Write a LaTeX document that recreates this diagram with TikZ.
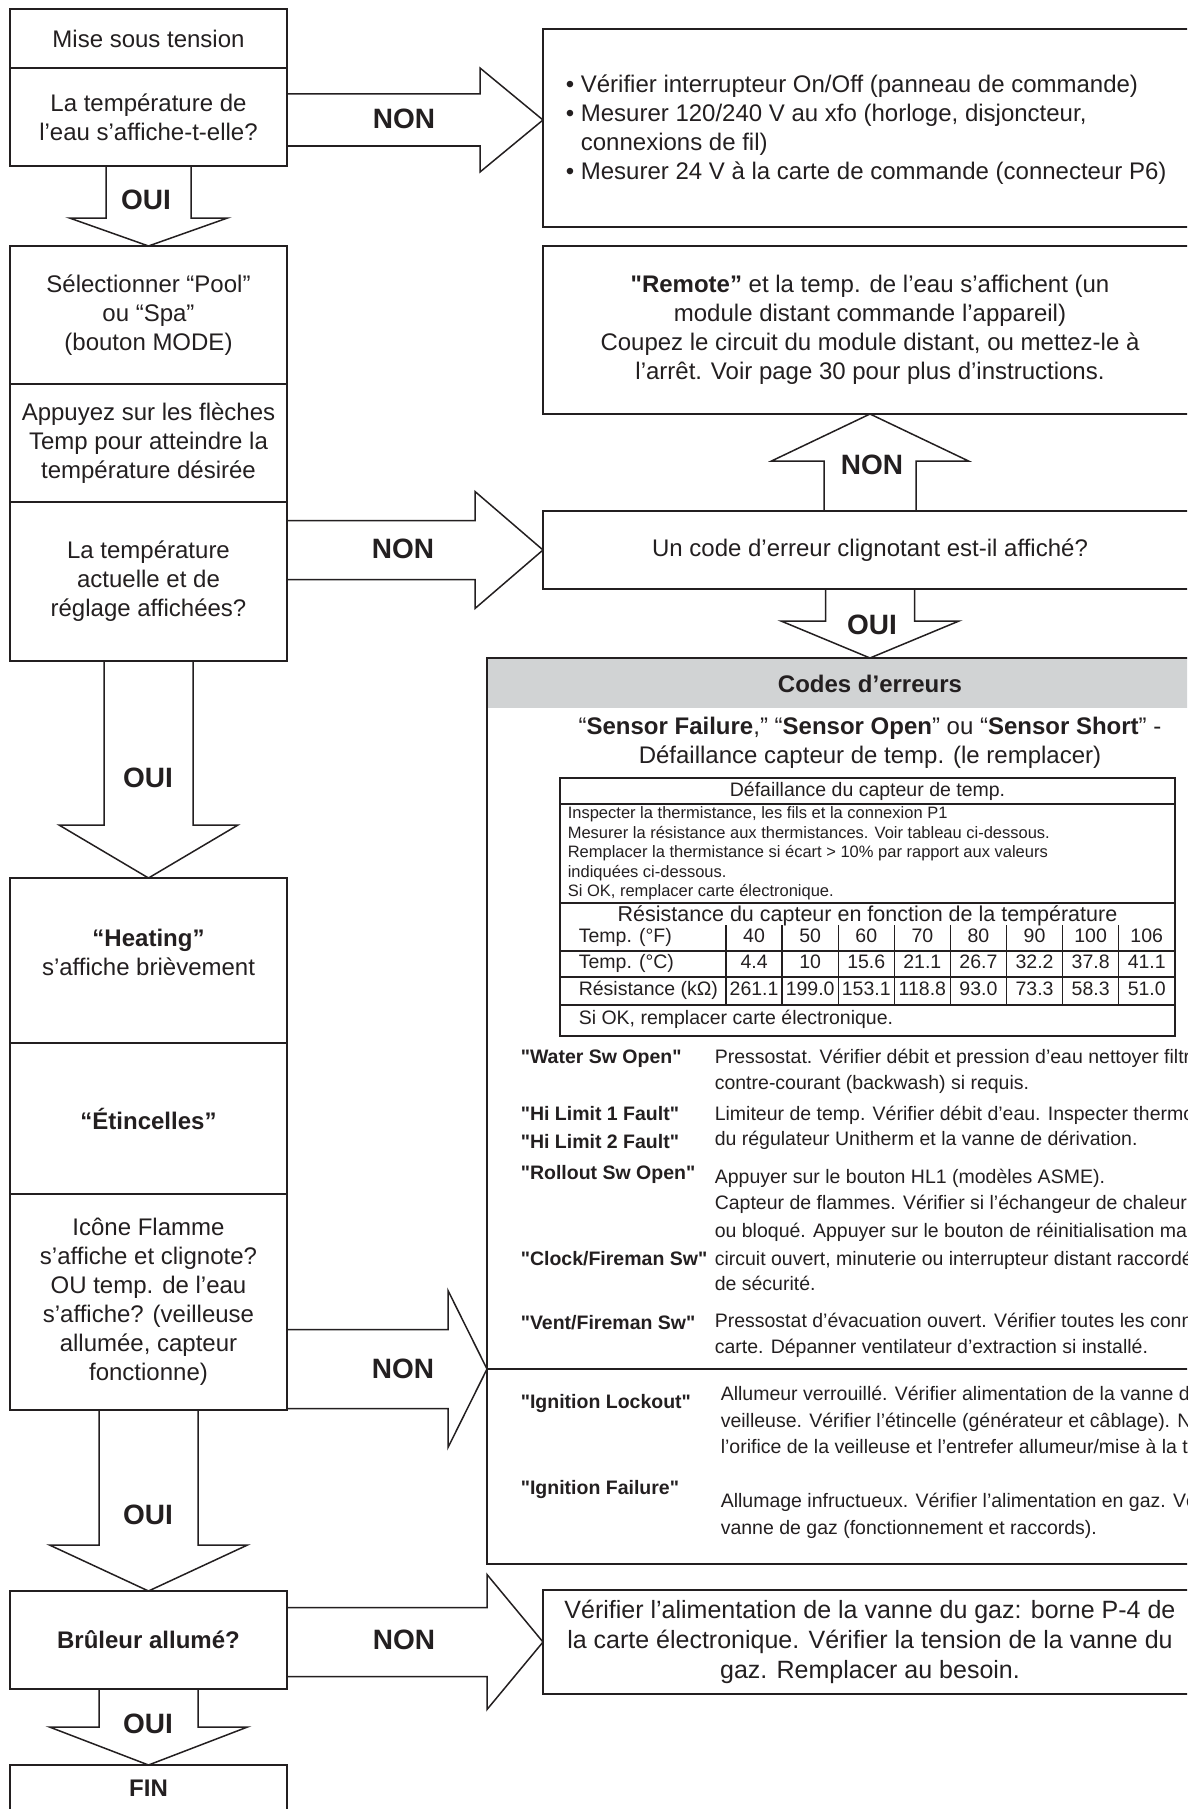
\documentclass[tikz,border=0pt]{standalone}
\usepackage{fontspec}
\setmainfont{Liberation Sans}[Ligatures=TeXOff]
\usetikzlibrary{calc,positioning}
\definecolor{ink}{RGB}{35,31,32}
\definecolor{hdr}{RGB}{209,211,212}
% block arrows: source anchor, tip, shaft half width, head half width, head length
\newcommand\arrowR[5]{\draw[fat] ($(#1|-#2)+(0,-#3)$) -- ($(#2)+(-#5,-#3)$) -- ($(#2)+(-#5,-#4)$) -- (#2) -- ($(#2)+(-#5,#4)$) -- ($(#2)+(-#5,#3)$) -- ($(#1|-#2)+(0,#3)$);}
\newcommand\arrowD[5]{\draw[fat] ($(#2|-#1)+(-#3,0)$) -- ($(#2)+(-#3,-#5)$) -- ($(#2)+(-#4,-#5)$) -- (#2) -- ($(#2)+(#4,-#5)$) -- ($(#2)+(#3,-#5)$) -- ($(#2|-#1)+(#3,0)$);}
\newcommand\arrowU[5]{\draw[fat] ($(#2|-#1)+(-#3,0)$) -- ($(#2)+(-#3,#5)$) -- ($(#2)+(-#4,#5)$) -- (#2) -- ($(#2)+(#4,#5)$) -- ($(#2)+(#3,#5)$) -- ($(#2|-#1)+(#3,0)$);}
\begin{document}
\begin{tikzpicture}[x=1pt,y=-1pt,line width=1.6pt,color=ink,
  box/.style={draw,inner sep=0pt,outer sep=0pt,align=center,font=\fontsize{24}{29}\selectfont},
  lbox/.style={box,minimum width=277},
  rbox/.style={box,minimum width=654},
  fat/.style={line width=1.5pt},
  yesno/.style={inner sep=0pt,font=\fontsize{28}{34}\selectfont\bfseries},
  errcode/.style={anchor=mid west,inner sep=0pt,font=\fontsize{19.5}{26}\selectfont\bfseries},
  errtext/.style={anchor=mid west,inner sep=0pt,font=\fontsize{19.5}{26}\selectfont},
  cell/.style={inner sep=0pt,font=\fontsize{19.5}{23}\selectfont}]
\useasboundingbox (0,0) rectangle (1187,1809);
\clip (0,0) rectangle (1187,1809);
% left column
\node[lbox,minimum height=59] (qA) at (148.5,38.5) {Mise sous tension};
\node[lbox,minimum height=98,below=0pt of qA] (qB) {La température de\\l’eau s’affiche-t-elle?};
\node[lbox,minimum height=138] (qC) at (148.5,315) {Sélectionner “Pool”\\ou “Spa”\\(bouton MODE)};
\node[lbox,minimum height=118,below=0pt of qC] (qD) {Appuyez sur les flèches\\Temp pour atteindre la\\température désirée};
\node[lbox,minimum height=159,below=0pt of qD] (qE) {La température\\actuelle et de\\réglage affichées?};
\node[lbox,minimum height=165] (qF) at (148.5,960.5) {};
\node[font=\fontsize{24}{29}\selectfont,align=center] (qFtxt) at ($(qF)+(0,-8)$) {\textbf{“Heating”}\\s’affiche brièvement};
\node[lbox,minimum height=151,below=0pt of qF] (qG) {\textbf{“Étincelles”}};
\node[lbox,minimum height=216,below=0pt of qG] (qH) {Icône Flamme\\s’affiche et clignote?\\OU temp. de l’eau\\s’affiche? (veilleuse\\allumée, capteur\\fonctionne)};
\node[lbox,minimum height=98] (qI) at (148.5,1640) {\textbf{Brûleur allumé?}};
\node[lbox,minimum height=100,anchor=north] (qJ) at (148.5,1765) {};
\node[font=\fontsize{24}{29}\selectfont\bfseries] (fin) at ($(qJ.north)+(0,23)$) {FIN};
% right column
\node[rbox,minimum height=198] (rA) at (870,128) {};
\node[anchor=west,inner sep=0pt,align=left,font=\fontsize{24}{29}\selectfont] (rAtxt) at ($(rA.west)+(22,2)$) {• Vérifier interrupteur On/Off (panneau de commande)\\• Mesurer 120/240 V au xfo (horloge, disjoncteur,\\\phantom{• }connexions de fil)\\• Mesurer 24 V à la carte de commande (connecteur P6)};
\node[rbox,minimum height=168] (rB) at (870,330) {\textbf{"Remote”} et la temp. de l’eau s’affichent (un\\module distant commande l’appareil)\\Coupez le circuit du module distant, ou mettez-le à\\l’arrêt. Voir page 30 pour plus d’instructions.};
\node[rbox,minimum height=78] (rC) at (870,550) {Un code d’erreur clignotant est-il affiché?};
\node[draw,inner sep=0pt,outer sep=0pt,minimum width=766,minimum height=906,
  path picture={\fill[hdr] (path picture bounding box.north west) rectangle ([yshift=-50pt]path picture bounding box.north east);}] (codes) at (870,1111) {};
\node[rbox,minimum height=104,font=\fontsize{25}{30}\selectfont] (rE) at (870,1642) {Vérifier l’alimentation de la vanne du gaz: borne P-4 de\\la carte électronique. Vérifier la tension de la vanne du\\gaz. Remplacer au besoin.};
% error codes
\node[font=\fontsize{24}{29}\selectfont\bfseries] (codesT) at (870,684) {Codes d’erreurs};
\node[font=\fontsize{24}{29}\selectfont] (sens1) at (870,728) {“\textbf{Sensor Failure},” “\textbf{Sensor Open}” ou “\textbf{Sensor Short}” -};
\node[font=\fontsize{24}{29}\selectfont] (sens2) at (870,757) {Défaillance capteur de temp. (le remplacer)};
\node[draw,line width=1.3pt,inner sep=0pt,outer sep=0pt,minimum width=615,minimum height=258,anchor=north west] (tab) at (560,778) {};
\foreach \y in {804,903,951,977,1005} \draw[line width=1.3pt] (tab.west|-0,\y) -- (tab.east|-0,\y);
\foreach \k in {0,...,7} \draw[line width=1.3pt] ({726+56.1*\k},925) -- ({726+56.1*\k},1005);
\node[font=\fontsize{19.5}{23}\selectfont] (tabT) at (867.5,791) {Défaillance du capteur de temp.};
\node[anchor=north west,inner sep=0pt,align=left,font=\fontsize{16.5}{19.5}\selectfont] (tabN) at (567,806) {Inspecter la thermistance, les fils et la connexion P1\\Mesurer la résistance aux thermistances. Voir tableau ci-dessous.\\Remplacer la thermistance si écart > 10\% par rapport aux valeurs\\indiquées ci-dessous.\\Si OK, remplacer carte électronique.};
\node[font=\fontsize{21.5}{26}\selectfont] (tabR) at (867.5,916) {Résistance du capteur en fonction de la température};
\node[cell,anchor=mid west] (rowF) at (578,940) {Temp. (°F)};
\node[cell,anchor=mid west] (rowC) at (578,966) {Temp. (°C)};
\node[cell,anchor=mid west] (rowR) at (578,993) {Résistance (kΩ)};
\node[cell,anchor=mid west] (rowOK) at (578,1022) {Si OK, remplacer carte électronique.};
\foreach \v [count=\i] in {40,50,60,70,80,90,100,106}
  \node[cell,anchor=mid] (vF\i) at ({726+56.1*(\i-0.5)},940) {\v};
\foreach \v [count=\i] in {4.4,10,15.6,21.1,26.7,32.2,37.8,41.1}
  \node[cell,anchor=mid] (vC\i) at ({726+56.1*(\i-0.5)},966) {\v};
\foreach \v [count=\i] in {261.1,199.0,153.1,118.8,93.0,73.3,58.3,51.0}
  \node[cell,anchor=mid] (vR\i) at ({726+56.1*(\i-0.5)},993) {\v};
\node[errcode] (cW) at (520,1061) {"Water Sw Open"};
\node[errcode] (cH1) at (520,1118) {"Hi Limit 1 Fault"};
\node[errcode] (cH2) at (520,1146) {"Hi Limit 2 Fault"};
\node[errcode] (cR) at (520,1177) {"Rollout Sw Open"};
\node[errcode] (cC) at (520,1263) {"Clock/Fireman Sw"};
\node[errcode] (cV) at (520,1327) {"Vent/Fireman Sw"};
\node[errcode] (cL) at (520,1406) {"Ignition Lockout"};
\node[errcode] (cF) at (520,1492) {"Ignition Failure"};
\foreach \y/\t [count=\i] in {1061/{Pressostat. Vérifier débit et pression d’eau nettoyer filtre},
  1087/{contre-courant (backwash) si requis.},
  1118/{Limiteur de temp. Vérifier débit d’eau. Inspecter thermostat},
  1143/{du régulateur Unitherm et la vanne de dérivation.},
  1181/{Appuyer sur le bouton HL1 (modèles ASME).},
  1207/{Capteur de flammes. Vérifier si l’échangeur de chaleur},
  1235/{ou bloqué. Appuyer sur le bouton de réinitialisation manuelle},
  1263/{circuit ouvert, minuterie ou interrupteur distant raccordé},
  1288/{de sécurité.},
  1325/{Pressostat d’évacuation ouvert. Vérifier toutes les connexions},
  1351/{carte. Dépanner ventilateur d’extraction si installé.}}
  \node[errtext] (d\i) at (714,\y) {\t};
\foreach \y/\t [count=\i] in {1398/{Allumeur verrouillé. Vérifier alimentation de la vanne de},
  1425/{veilleuse. Vérifier l’étincelle (générateur et câblage). Nettoyer},
  1451/{l’orifice de la veilleuse et l’entrefer allumeur/mise à la terre},
  1505/{Allumage infructueux. Vérifier l’alimentation en gaz. Vérifier},
  1532/{vanne de gaz (fonctionnement et raccords).}}
  \node[errtext] (g\i) at (720,\y) {\t};
% arrows
\coordinate (t1) at (rA.west|-0,120);
\arrowR{qB.east}{t1}{26}{52}{63}
\node[yesno] (non1) at (404,119) {NON};
\arrowD{qB.south}{qC.north}{42.5}{79}{28}
\node[yesno] (oui1) at (146,200) {OUI};
\arrowU{rC.north}{rB.south}{46}{98.5}{47}
\node[yesno] (non2) at (872,465) {NON};
\arrowR{qE.east}{rC.west}{29.5}{58.5}{68}
\node[yesno] (non3) at (403,549) {NON};
\arrowD{rC.south}{codes.north}{44.5}{89}{37}
\node[yesno] (oui2) at (872,625) {OUI};
\arrowD{qE.south}{qF.north}{44.5}{89.5}{53}
\node[yesno] (oui3) at (148,778) {OUI};
\coordinate (t7) at (codes.west|-0,1369);
\arrowR{qH.east}{t7}{39.5}{78.5}{39}
\draw (t7) -- (codes.east|-t7);
\node[yesno] (non4) at (403,1369) {NON};
\arrowD{qH.south}{qI.north}{49.5}{99}{46}
\node[yesno] (oui4) at (148,1515) {OUI};
\arrowR{qI.east}{rE.west}{34.5}{67.5}{56}
\node[yesno] (non5) at (404,1640) {NON};
\arrowD{qI.south}{qJ.north}{49.5}{99}{38}
\node[yesno] (oui5) at (148,1724) {OUI};
\end{tikzpicture}
\end{document}
